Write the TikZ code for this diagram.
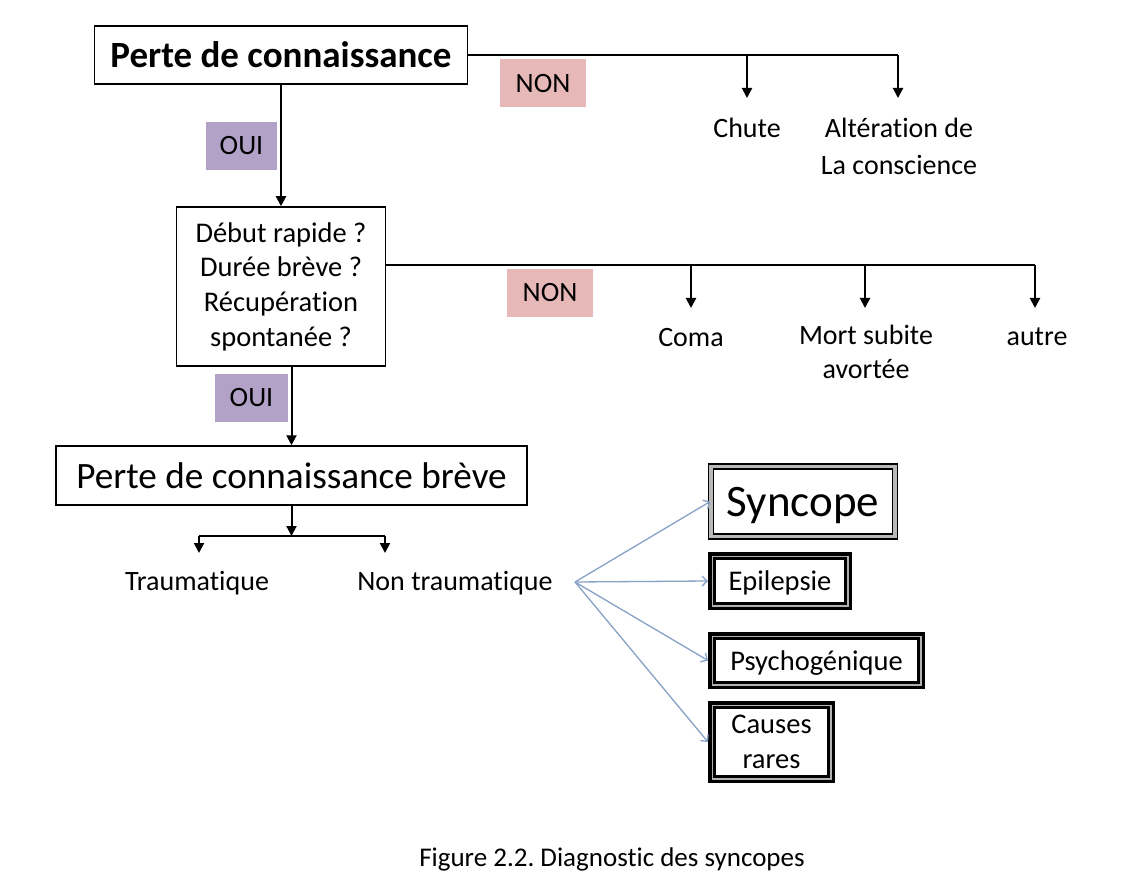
\documentclass[tikz,border=0pt]{standalone}
\usepackage{fontspec}
\setmainfont{Carlito}[Ligatures={NoCommon}]
\usetikzlibrary{arrows.meta,calc}
\definecolor{nonpink}{HTML}{E6B9B8}
\definecolor{ouipurple}{HTML}{B3A2C7}
\definecolor{arrblue}{HTML}{86A2C6}
\newcommand\fsBody{\fontsize{28}{34.5}\selectfont}
\newcommand\fsQ{\fontsize{28.5}{34.7}\selectfont}
\newcommand\fsBold{\fontsize{37}{42}\bfseries\selectfont}
\newcommand\fsBig{\fontsize{37.2}{42}\selectfont}
\newcommand\fsSyn{\fontsize{45}{52}\selectfont}
\newcommand\fsBoxed{\fontsize{28.5}{35}\selectfont}
\newcommand\fsCap{\fontsize{27}{33}\selectfont}
\frenchspacing
\begin{document}
\begin{tikzpicture}[x=1pt,y=-1pt,
  box/.style={draw=black, line width=1.5pt, fill=white, inner sep=0pt, align=center},
  tag/.style={inner sep=0pt, minimum width=86pt, minimum height=48pt, font=\fsBody},
  ln/.style={line width=2pt},
  arr/.style={line width=2pt, -{Triangle[length=10pt,width=10pt]}},
  barr/.style={draw=arrblue, line width=1.3pt, -{Straight Barb[length=5pt,width=10pt]}},
  lbl/.style={font=\fsBody, inner sep=0pt, anchor=base},
  trip/.style={draw=black, line width=7pt, fill=white, inner sep=0pt, align=center, font=\fsBoxed},
  dbl/.style={draw=black, line width=1.5pt, double=gray!55, double distance=3.5pt, fill=white, inner sep=0pt, font=\fsSyn},
]
\useasboundingbox (0,0) rectangle (1142,890);
\fill[white] (0,0) rectangle (1142,890);

% top level
\node[box, font=\fsBold, minimum width=373pt, minimum height=58pt] (pc) at (281,55) {Perte de connaissance};
\node[tag, fill=nonpink] (non1) at (543,83.5) {NON};
\node[tag, fill=ouipurple, minimum width=71pt] (oui1) at (241.5,146) {OUI};

\coordinate (j1) at (747,55);
\coordinate (j2) at (898,55);
\coordinate (t1) at (747,98);
\coordinate (t2) at (898,98);
\draw[ln] (pc.east |- j2) -- (j2);
\draw[arr] (j1) -- (t1);
\draw[arr] (j2) -- (t2);
\node[lbl] (chute) at (747,138) {Chute};
\node[lbl] (alt) at (899,138) {Altération de};
\node[lbl] (alt2) at (899,175) {La conscience};

% question box
\node[box, font=\fsQ, minimum width=209pt, minimum height=159pt] (q) at (281,286.5) {Début rapide ?\\Durée brève ?\\Récupération\\spontanée ?};
\draw[arr] (pc.south) -- (q.north);
\node[tag, fill=nonpink] (non2) at (550,293) {NON};

\coordinate (h1) at (691,265);
\coordinate (h2) at (865,265);
\coordinate (h3) at (1035,265);
\coordinate (u1) at (691,308);
\coordinate (u2) at (865,308);
\coordinate (u3) at (1035,308);
\draw[ln] (q.east |- h3) -- (h3);
\draw[arr] (h1) -- (u1);
\draw[arr] (h2) -- (u2);
\draw[arr] (h3) -- (u3);
\node[lbl] (coma) at (691,346) {Coma};
\node[lbl] (mort) at (866,344) {Mort subite};
\node[lbl] (mort2) at (866,378) {avortée};
\node[lbl] (autre) at (1037,345) {autre};

% brief loss
\node[box, font=\fsBig, minimum width=471pt, minimum height=59pt] (b3) at (291.5,475.5) {Perte de connaissance brève};
\draw[arr] (q.south -| b3.north) -- (b3.north);
\node[tag, fill=ouipurple, minimum width=73pt] (oui2) at (251.5,397.5) {OUI};

\coordinate (kl) at (199,536);
\coordinate (kr) at (385,536);
\coordinate (kl2) at (199,553);
\coordinate (kr2) at (385,553);
\draw[arr] (b3.south) -- (b3.south |- kl);
\draw[ln] (kl) -- (kr);
\draw[arr] (kl) -- (kl2);
\draw[arr] (kr) -- (kr2);
\node[lbl] (trau) at (197,590) {Traumatique};
\node[lbl] (ntrau) at (455,590) {Non traumatique};

% causes
\node[dbl, minimum width=184pt, minimum height=70pt, text depth=0pt] (syn) at (803,501.5) {Syncope};
\node[trip, minimum width=137pt, minimum height=51pt, text depth=0pt] (epi) at (780,581) {Epilepsie};
\node[trip, minimum width=210pt, minimum height=50pt, text depth=0pt] (psy) at (816.5,660.5) {Psychogénique};
\node[trip, minimum width=120pt, minimum height=75pt] (cau) at (771.5,742) {Causes\\rares};
\foreach \n in {epi,psy,cau}{
  \draw[gray!60, line width=1.5pt] ($(\n.north west)+(4.25,4.25)$) rectangle ($(\n.south east)+(-4.25,-4.25)$);
  \draw[black, line width=1.1pt] ($(\n.north west)+(7.5,7.5)$) rectangle ($(\n.south east)+(-7.5,-7.5)$);
}
\coordinate (o) at (575,582);
\draw[barr] (o) -- (syn.west);
\draw[barr] (o) -- (epi.west);
\draw[barr] (o) -- (psy.west);
\draw[barr] (o) -- (cau.west);

\node[font=\fsCap, anchor=base, inner sep=0pt] (cap) at (612,866) {Figure 2.2. Diagnostic des syncopes};
\end{tikzpicture}
\end{document}
